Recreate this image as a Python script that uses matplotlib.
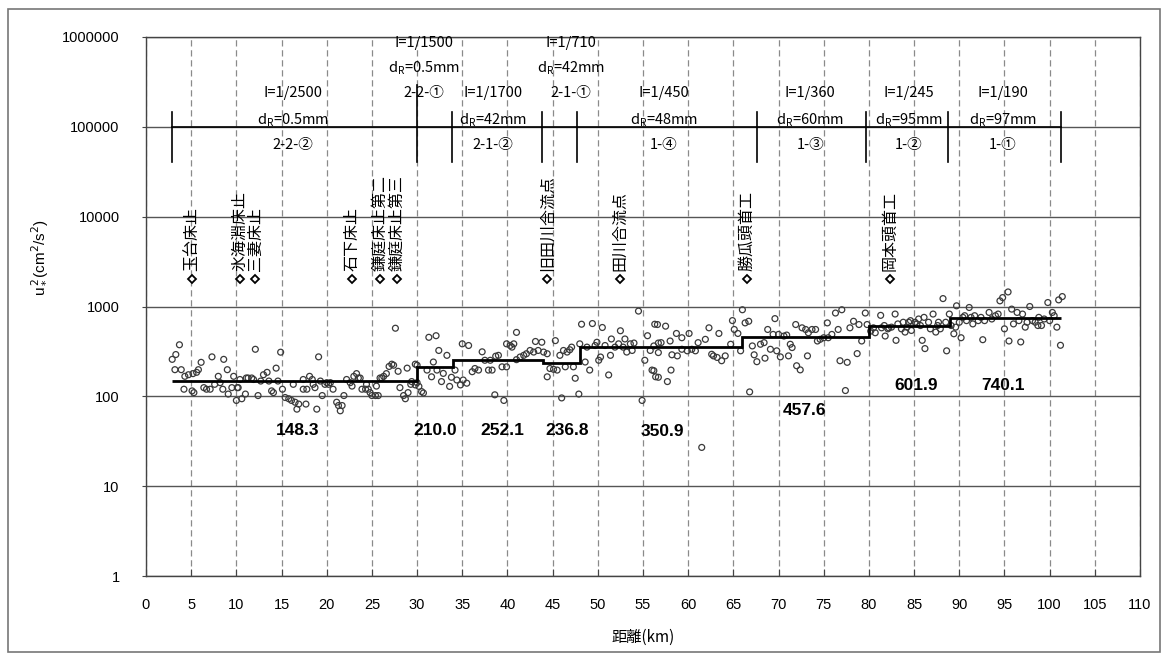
import matplotlib
matplotlib.use("Agg")
import matplotlib.pyplot as plt
from matplotlib.patches import Rectangle

plt.rcParams['font.family'] = ['Noto Sans CJK JP', 'DejaVu Sans']


# Friction velocity squared u*^2 (cm2/s2) against distance (km).
reach_22 = [
    (2.9, 258), (3.3, 292), (3.7, 375), (3.2, 198), (3.9, 198), (4.3, 167), (4.7, 174), (4.2, 120),
    (5.1, 115), (5.2, 179), (5.6, 185), (5.8, 198), (6.1, 239), (5.3, 110), (6.4, 125), (6.7, 120),
    (7.1, 120), (7.3, 275), (7.6, 136), (8.0, 167), (8.2, 142), (8.6, 258), (8.5, 120), (9.0, 198),
    (9.1, 106), (9.5, 125), (9.7, 167), (10.1, 125), (10.2, 125), (10.4, 154), (10.0, 90), (10.6, 94),
    (11.0, 106), (11.1, 160), (11.3, 160), (11.7, 160), (12.1, 334), (11.9, 154), (12.4, 102), (12.7, 148),
    (13.0, 174), (13.4, 185), (13.6, 148), (13.9, 115), (14.1, 110), (14.4, 206), (14.6, 148), (14.9, 310),
    (15.1, 120), (15.4, 97), (15.8, 94), (16.1, 90), (16.3, 136), (16.5, 86), (16.7, 72), (16.9, 82),
    (17.4, 154), (17.4, 120), (17.7, 82), (17.8, 120), (18.1, 167), (18.4, 154), (18.5, 136), (18.7, 125),
    (18.9, 72), (19.1, 275), (19.3, 148), (19.5, 102), (19.8, 136), (20.0, 142), (20.2, 136), (20.4, 142),
    (20.7, 120), (21.1, 86), (21.3, 79), (21.5, 69), (21.7, 79), (21.9, 102), (22.2, 154), (22.6, 142),
    (22.8, 130), (23.0, 167), (23.3, 179), (23.5, 160), (23.7, 160), (23.9, 120), (24.3, 120), (24.4, 136),
    (24.6, 120), (24.8, 110), (25.0, 102), (25.4, 102), (25.5, 130), (25.7, 102), (25.9, 160), (26.1, 160),
    (26.3, 167), (26.6, 179), (26.9, 215), (27.2, 228), (27.4, 222), (27.6, 573), (27.9, 190), (28.1, 125),
    (28.5, 102), (28.7, 94), (28.9, 206), (29.0, 110), (29.3, 136), (29.8, 228), (30.0, 142),
]

reach_21 = [
    (29.4, 146), (29.8, 134), (30.2, 129), (30.5, 113), (30.7, 109), (30.0, 222), (31.3, 454), (32.1, 473),
    (32.4, 324), (33.3, 286), (31.8, 241), (31.1, 196), (31.6, 165), (32.2, 196), (32.7, 146), (32.9, 180),
    (33.6, 129), (33.8, 163), (34.2, 196), (34.4, 152), (34.8, 134), (35.1, 152), (35.5, 140), (35.0, 384),
    (35.7, 368), (36.1, 188), (36.4, 204), (36.8, 196), (37.2, 313), (37.5, 252), (37.9, 196), (38.1, 252),
    (38.3, 196), (38.6, 104), (38.7, 280), (39.0, 286), (39.4, 213), (39.6, 90), (39.9, 213), (39.9, 384),
    (40.3, 368), (40.5, 353), (40.7, 384), (41.0, 515), (41.0, 256), (41.4, 274), (41.8, 286), (42.1, 298),
    (42.5, 324), (42.9, 311), (43.1, 408), (43.4, 324), (43.8, 400), (44.0, 311), (44.4, 298), (44.4, 165),
    (44.7, 204), (45.1, 200), (45.3, 417), (45.5, 196), (45.8, 286), (46.0, 96), (46.2, 324), (46.4, 213),
    (46.6, 311), (46.9, 330), (47.1, 353), (47.3, 213), (47.5, 159), (47.9, 106),
]

reach_1 = [
    (48.0, 384), (48.2, 635), (48.6, 241), (48.8, 353), (49.1, 196), (49.4, 646), (49.7, 368), (49.9, 400),
    (50.1, 252), (50.3, 274), (50.5, 584), (50.8, 368), (51.2, 173), (51.4, 286), (51.5, 435), (51.9, 353),
    (52.3, 384), (52.5, 537), (52.8, 353), (53.0, 435), (53.2, 311), (53.6, 384), (53.8, 324), (54.0, 392),
    (54.5, 889), (54.9, 90), (55.2, 252), (55.5, 473), (55.8, 324), (56.0, 196), (56.3, 635), (56.4, 165),
    (56.7, 392), (56.6, 630), (57.5, 604), (58.7, 501), (59.3, 449), (60.1, 501), (56.2, 364), (57.0, 396),
    (58.0, 413), (56.7, 307), (58.2, 290), (58.8, 282), (59.3, 334), (59.9, 321), (60.4, 334), (60.8, 321),
    (61.1, 396), (61.9, 431), (62.3, 579), (62.6, 294), (62.8, 282), (63.2, 271), (63.4, 501), (63.7, 249),
    (64.1, 282), (64.7, 380), (64.9, 697), (65.1, 555), (65.5, 501), (65.8, 321), (66.0, 920), (66.3, 657),
    (66.7, 685), (67.1, 364), (67.3, 290), (67.6, 243), (68.0, 380), (68.4, 396), (68.5, 266), (68.8, 555),
    (69.1, 334), (69.4, 489), (69.6, 733), (69.8, 321), (70.0, 489), (70.2, 275), (70.6, 469), (70.9, 481),
    (71.1, 282), (71.3, 380), (71.5, 349), (71.9, 630), (72.0, 219), (72.4, 197), (72.6, 579), (73.0, 555),
    (73.2, 282), (73.3, 510), (73.7, 555), (74.1, 555), (74.3, 413), (74.6, 431), (75.0, 449), (75.4, 657),
    (75.5, 449), (75.9, 489), (76.3, 846), (76.6, 555), (76.8, 249), (77.0, 920), (77.4, 116), (77.6, 239),
    (77.9, 579), (78.3, 685), (78.7, 299), (78.9, 630), (79.2, 413), (79.6, 846), (79.8, 630), (80.2, 532),
    (80.5, 579), (80.7, 510), (81.3, 797), (81.4, 579), (81.8, 469), (82.2, 579), (56.2, 193), (56.7, 163),
    (57.7, 146), (58.1, 196), (61.5, 27), (66.8, 112),
    (81.7, 614), (82.1, 564), (82.5, 589), (82.9, 824), (83.0, 420), (83.2, 640), (83.6, 564), (83.8, 668),
    (84.0, 519), (84.2, 589), (84.4, 668), (84.6, 696), (84.7, 541), (85.1, 668), (85.3, 640), (85.5, 726),
    (85.7, 614), (85.9, 420), (86.1, 757), (86.2, 340), (86.6, 668), (86.8, 564), (87.1, 824), (87.4, 519),
    (87.6, 614), (87.7, 668), (87.9, 564), (88.2, 1225), (88.5, 668), (88.6, 321), (88.9, 824), (89.1, 614),
    (89.4, 497), (89.6, 589), (89.7, 1018), (90.0, 668), (90.2, 449), (90.4, 757), (90.6, 790), (90.8, 696),
    (91.1, 975), (91.3, 757), (91.5, 640), (91.7, 790), (92.1, 696), (92.4, 757), (92.6, 427), (92.8, 696),
    (93.3, 859), (93.6, 726), (94.0, 790), (94.3, 824), (94.5, 1156), (94.8, 1257), (95.0, 564), (95.4, 1452),
    (95.5, 413), (95.8, 935), (96.0, 640), (96.4, 859), (96.6, 696), (96.8, 403), (97.0, 824), (97.3, 589),
    (97.5, 668), (97.8, 1000), (98.1, 696), (98.4, 668), (98.7, 614), (98.8, 757), (99.1, 614), (99.4, 726),
    (99.8, 1107), (100.0, 696), (100.3, 859), (100.5, 790), (100.8, 589), (101.0, 1185), (101.2, 370), (101.4, 1290),
]

# Reach averages (step line) and the value written under each step.
step_edges = [2.9, 30.0, 34.0, 43.9, 48.0, 66.0, 80.0, 89.0, 101.3]
step_means = [148.3, 210.0, 252.1, 236.8, 350.9, 457.6, 601.9, 740.1]
mean_label_km = [16.8, 32.0, 39.4, 46.6, 57.1, 72.9, 85.2, 94.8]
mean_label_y = [42, 42, 42, 42, 41, 70, 132, 132]

# Reach boundaries and reach descriptions drawn above the 100000 line.
sep_km = [2.9, 30.0, 33.9, 43.8, 47.7, 67.6, 79.7, 88.7, 101.3]
sec_names = ['2-2-②', '2-2-①', '2-1-②', '2-1-①', '1-④', '1-③', '1-②', '1-①']
sec_slope = ['I=1/2500', 'I=1/1500', 'I=1/1700', 'I=1/710', 'I=1/450', 'I=1/360', 'I=1/245', 'I=1/190']
sec_dr = ['0.5mm', '0.5mm', '42mm', '42mm', '48mm', '60mm', '95mm', '97mm']
sec_km = [16.3, 30.8, 38.4, 47.0, 57.3, 73.5, 84.4, 94.8]
sec_raised = [False, True, False, True, False, False, False, False]

# Weirs and confluences.
landmarks = ['玉台床止', '氷海淵床止', '三妻床止', '石下床止', '鎌庭床止第二', '鎌庭床止第三',
             '旧田川合流点', '田川合流点', '勝瓜頭首工', '岡本頭首工']
landmark_km = [5.1, 10.4, 12.1, 22.8, 25.9, 27.8, 44.4, 52.4, 66.5, 82.3]

ytick_vals = [1, 10, 100, 1000, 10000, 100000, 1000000]
xtick_vals = list(range(0, 111, 5))


fig = plt.figure(figsize=(11.67, 6.61), dpi=100)
ax = fig.add_axes([146 / 1167, 1 - 576 / 661, (1140 - 146) / 1167, (576 - 37) / 661])

ax.set_yscale('log')
ax.set_xlim(0, 110)
ax.set_ylim(1, 1e6)

# Grid: solid decades, dashed every 5 km.
ax.set_axisbelow(True)
ax.yaxis.grid(True, color='#555555', lw=1.0)
ax.xaxis.grid(True, color='#8a8a8a', lw=0.9, linestyle=(0, (5, 3)))
for s in ax.spines.values():
    s.set_color('#444444')
    s.set_linewidth(1.0)

ax.set_yticks(ytick_vals)
ax.set_yticklabels([str(v) for v in ytick_vals], family='Liberation Sans', fontsize=10.5)
ax.yaxis.set_minor_locator(matplotlib.ticker.NullLocator())
ax.set_xticks(xtick_vals)
ax.set_xticklabels([str(v) for v in xtick_vals], family='Liberation Sans', fontsize=10.5)
ax.tick_params(axis='x', direction='in', length=5, color='#444444', pad=16)
ax.tick_params(axis='y', direction='out', length=3, color='#444444', pad=16)

ax.set_xlabel('距離(km)', fontsize=11, labelpad=12)
ax.set_ylabel(r'u$_*^{\,2}$(cm$^2$/s$^2$)', fontsize=11, family='Liberation Sans')
ax.yaxis.set_label_coords(-0.097, 0.59)

# Measured points.
pts = reach_22 + reach_21 + reach_1
ax.scatter([p[0] for p in pts], [p[1] for p in pts], s=18, facecolors='none',
           edgecolors='#3a3a3a', linewidths=0.9, zorder=3)

# Reach-average step line and its values.
ax.stairs(step_means, step_edges, baseline=None, color='black', lw=2.0, zorder=4)
for x, y, v in zip(mean_label_km, mean_label_y, step_means):
    ax.text(x, y, f'{v:.1f}', ha='center', va='center', fontsize=12.5,
            fontweight='bold', family='Liberation Sans', zorder=5)

# Reach partition bar.
ax.plot([sep_km[0], sep_km[-1]], [1e5, 1e5], color='black', lw=1.2, zorder=2)
for k in sep_km:
    top = 2.9e5 if k == 30.0 else 1.47e5
    ax.plot([k, k], [4.1e4, top], color='black', lw=1.2, zorder=2)

for x, name, slope, dr, up in zip(sec_km, sec_names, sec_slope, sec_dr, sec_raised):
    y_slope, y_dr, y_name = (8.6e5, 4.5e5, 2.4e5) if up else (2.4e5, 1.2e5, 6.3e4)
    ax.text(x, y_slope, slope, ha='center', va='center', fontsize=10.5)
    ax.text(x, y_dr, r'd$_\mathregular{R}$=' + dr, ha='center', va='center', fontsize=10.5)
    ax.text(x, y_name, name, ha='center', va='center', fontsize=10.5)

# Landmarks: open diamonds with vertical names above.
ax.plot(landmark_km, [2000] * len(landmark_km), linestyle='none', marker='D', ms=4.5,
        mfc='white', mec='black', mew=1.3, zorder=4)
for k, name in zip(landmark_km, landmarks):
    ax.text(k, 2500, name, rotation=90, ha='center', va='bottom', fontsize=11.5)

# Outer frame.
fig.add_artist(Rectangle((8 / 1167, 9 / 661), 1152 / 1167, 643 / 661, transform=fig.transFigure,
                         fill=False, ec='#777777', lw=1.2))

fig.savefig('out.png', dpi=100)
